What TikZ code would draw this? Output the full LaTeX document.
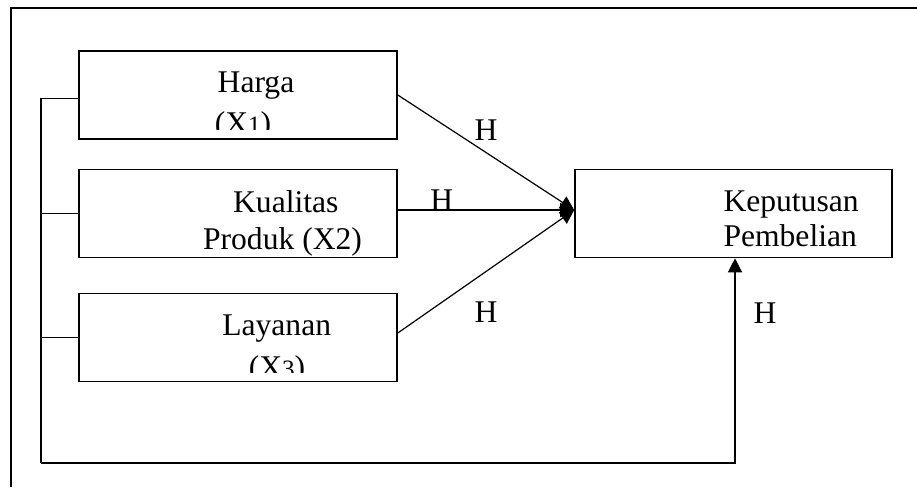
\documentclass[tikz,border=0pt]{standalone}
\usepackage{fontspec}
\setmainfont{Liberation Serif}
\usetikzlibrary{arrows.meta}
\newcommand\subnum[1]{{\fontsize{25}{25}\selectfont #1}}
\tikzset{
	box/.style = {draw, line width=1.6pt, minimum width=318pt, minimum height=88pt, inner sep=0pt},
	lbl/.style = {font=\fontsize{31.6}{38}\selectfont, inner sep=0pt, anchor=base},
	link/.style = {line width=1.2pt},
	arr/.style = {link, -{Triangle[length=14pt, width=14pt]}}
}
\begin{document}
\begin{tikzpicture}[x = 1pt, y = -1pt]
		\useasboundingbox (0,0) rectangle (917,487);
		\draw[line width=1.6pt] (917,8) -- (11,8) -- (11,487);
		\node[box] (harga) at (238,95) {};
		\node[box] (kualitas) at (238,213.5) {};
		\node[box] (layanan) at (238,337.5) {};
		\node[box, minimum width=317pt] (keputusan) at (733.5,213.5) {};
		\node[lbl] (harga-a) at (256,92.7) {Harga};
		\begin{scope}
			\clip (79,51) rectangle (397,129);
			\node[lbl] (harga-b) at (243,133) {(X\subnum{1})};
		\end{scope}
		\node[lbl] (kualitas-a) at (285.8,212.7) {Kualitas};
		\node[lbl] (kualitas-b) at (282.5,249) {Produk (X2)};
		\node[lbl] (layanan-a) at (276.7,335) {Layanan};
		\begin{scope}
			\clip (79,293) rectangle (397,372);
			\node[lbl] (layanan-b) at (277,377) {(X\subnum{3})};
		\end{scope}
		\node[lbl, anchor=base west] (keputusan-a) at (723.3,211.7) {Keputusan};
		\node[lbl, anchor=base west] (keputusan-b) at (723.3,246.7) {Pembelian};
		\coordinate (bus) at (41,463);
		\draw[arr] (harga.east) -- ([yshift=3.5pt]keputusan.west);
		\draw[arr] ([yshift=3.5pt]kualitas.east) -- ([yshift=3.5pt]keputusan.west);
		\draw[arr] ([yshift=4.5pt]layanan.east) -- ([yshift=3.5pt]keputusan.west);
		\draw[link] ([yshift=-3.7pt]harga.west) -| (bus);
		\draw[link] (kualitas.west) -- (kualitas.west -| bus);
		\draw[link] (layanan.west) -- (layanan.west -| bus);
		\draw[arr] (bus) -| ([xshift=1.5pt]keputusan.south);
		\node[lbl] (h1) at (486,140) {H};
		\node[lbl] (h2) at (441.7,210) {H};
		\node[lbl] (h3) at (486,322.7) {H};
		\node[lbl] (h4) at (765,323.3) {H};
	\end{tikzpicture}
\end{document}
